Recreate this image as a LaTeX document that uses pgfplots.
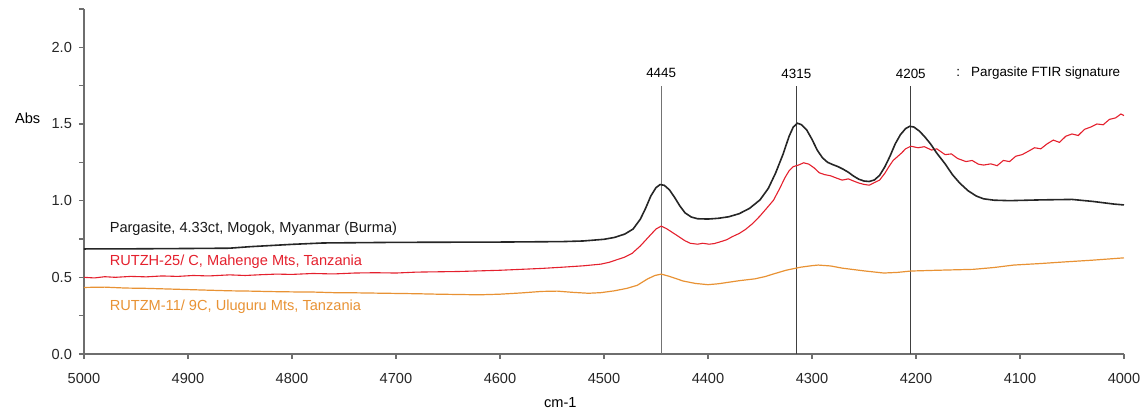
\documentclass[border=0pt]{standalone}
\usepackage{fontspec}
\setmainfont{Liberation Sans}
\usepackage{pgfplots}
\pgfplotsset{compat=1.18}
\definecolor{specred}{RGB}{228,32,45}
\definecolor{specorange}{RGB}{232,146,52}
\definecolor{axisgray}{RGB}{110,110,110}

\begin{document}
\begin{tikzpicture}[font=\fontsize{7.3}{8.5}\selectfont]
\begin{axis}[
  at={(0,0)}, anchor=south west,
  scale only axis, width=520pt, height=172.5pt,
  xmin=4000, xmax=5000, x dir=reverse,
  ymin=0, ymax=2.25,
  axis x line=bottom, axis y line=left,
  axis line style={-, axisgray, line width=0.8pt},
  xtick={4000,4100,...,5000},
  ytick={0,0.5,1.0,1.5,2.0},
  minor ytick={0.25,0.75,1.25,1.75,2.25},
  tick style={axisgray, line width=0.6pt},
  tick align=outside,
  major tick length=2.5pt, minor tick length=2.5pt,
  xticklabel style={/pgf/number format/set thousands separator={}, yshift=-3.5pt},
  yticklabel style={/pgf/number format/.cd, fixed, fixed zerofill, precision=1},
  /pgf/number format/assume math mode=true,
  ticklabel style={font=\fontsize{7.3}{8.5}\selectfont, text=black!85},
  clip=false,
]
% peak markers
\addplot[black!55, line width=0.55pt] coordinates {(4445,0) (4445,1.75)};
\addplot[black!75, line width=0.5pt] coordinates {(4315,0) (4315,1.75)};
\addplot[black!75, line width=0.5pt] coordinates {(4205,0) (4205,1.75)};

% orange: RUTZM-11/9C
\addplot[specorange, line width=0.6pt] coordinates {
  (5000,0.434) (4980,0.436) (4960,0.430) (4940,0.428) (4920,0.424) (4900,0.420)
  (4880,0.416) (4860,0.412) (4840,0.410) (4820,0.407) (4800,0.405) (4780,0.404)
  (4760,0.400) (4740,0.399) (4720,0.397) (4700,0.395) (4680,0.393) (4660,0.390)
  (4640,0.388) (4620,0.386) (4600,0.390) (4580,0.398) (4560,0.408) (4545,0.410)
  (4530,0.402) (4515,0.396) (4503,0.400) (4490,0.412) (4478,0.428) (4468,0.448)
  (4458,0.490) (4451,0.512) (4445,0.521) (4438,0.508) (4430,0.490) (4424,0.476)
  (4412,0.460) (4400,0.452) (4390,0.458) (4380,0.468) (4370,0.478) (4355,0.490)
  (4345,0.505) (4337,0.522) (4325,0.546) (4311,0.566) (4300,0.576) (4294,0.580)
  (4282,0.574) (4271,0.560) (4250,0.542) (4231,0.528) (4218,0.532) (4205,0.541)
  (4180,0.546) (4145,0.552) (4125,0.564) (4106,0.580) (4080,0.590) (4056,0.601)
  (4030,0.612) (4000,0.627)
};

% red: RUTZH-25/C
\addplot[specred, line width=0.55pt] coordinates {
  (5000,0.500) (4990,0.496) (4980,0.504) (4970,0.500) (4955,0.506) (4940,0.503)
  (4925,0.509) (4910,0.506) (4895,0.512) (4880,0.509) (4860,0.516) (4845,0.512)
  (4830,0.517) (4815,0.521) (4800,0.519) (4780,0.525) (4760,0.522) (4740,0.528)
  (4720,0.530) (4700,0.528) (4680,0.534) (4660,0.536) (4640,0.538) (4620,0.542)
  (4600,0.546) (4580,0.552) (4560,0.558) (4540,0.566) (4520,0.575) (4503,0.586)
  (4495,0.598) (4488,0.614) (4480,0.632) (4473,0.656) (4465,0.705) (4457,0.764)
  (4450,0.815) (4445,0.834) (4440,0.818) (4435,0.796) (4428,0.765) (4422,0.738)
  (4417,0.722) (4410,0.716) (4405,0.722) (4399,0.716) (4394,0.720) (4388,0.732)
  (4382,0.745) (4377,0.764) (4370,0.786) (4364,0.812) (4357,0.851) (4350,0.900)
  (4343,0.955) (4337,1.003) (4331,1.080) (4326,1.150) (4322,1.195) (4318,1.222)
  (4313,1.232) (4308,1.247) (4303,1.238) (4298,1.214) (4293,1.182) (4288,1.170)
  (4282,1.162) (4276,1.146) (4271,1.134) (4265,1.142) (4260,1.128) (4255,1.115)
  (4250,1.106) (4245,1.101) (4240,1.118) (4235,1.134) (4230,1.178) (4226,1.222)
  (4222,1.262) (4218,1.286) (4214,1.310) (4210,1.338) (4205,1.355) (4198,1.345)
  (4192,1.352) (4185,1.330) (4180,1.338) (4172,1.300) (4166,1.305) (4160,1.275)
  (4152,1.255) (4146,1.262) (4140,1.238) (4135,1.232) (4128,1.240) (4122,1.228)
  (4116,1.262) (4110,1.255) (4104,1.290) (4098,1.300) (4092,1.322) (4086,1.345)
  (4080,1.338) (4074,1.370) (4068,1.395) (4062,1.380) (4056,1.420) (4050,1.435)
  (4044,1.425) (4038,1.465) (4032,1.480) (4026,1.500) (4020,1.495) (4014,1.530)
  (4008,1.540) (4003,1.565) (4000,1.555)
};

% black: Pargasite, Mogok
\addplot[black!85, line width=0.8pt] coordinates {
  (5000,0.685) (4950,0.686) (4900,0.688) (4860,0.690) (4840,0.700) (4800,0.715)
  (4770,0.724) (4700,0.728) (4600,0.730) (4540,0.733) (4520,0.737) (4500,0.748)
  (4490,0.760) (4480,0.782) (4472,0.815) (4465,0.880) (4460,0.950) (4455,1.030)
  (4450,1.085) (4446,1.105) (4442,1.100) (4437,1.070) (4432,1.020) (4427,0.965)
  (4422,0.920) (4416,0.893) (4410,0.882) (4400,0.880) (4390,0.885) (4380,0.895)
  (4370,0.915) (4360,0.950) (4350,1.005) (4342,1.080) (4335,1.180) (4328,1.300)
  (4322,1.420) (4318,1.480) (4314,1.505) (4310,1.495) (4305,1.460) (4300,1.400)
  (4295,1.330) (4290,1.280) (4285,1.250) (4280,1.235) (4275,1.222) (4270,1.205)
  (4265,1.185) (4260,1.160) (4255,1.140) (4250,1.128) (4245,1.125) (4240,1.135)
  (4235,1.165) (4230,1.220) (4225,1.290) (4220,1.370) (4215,1.430) (4210,1.470)
  (4206,1.485) (4202,1.480) (4197,1.455) (4192,1.420) (4186,1.370) (4180,1.310)
  (4172,1.240) (4165,1.170) (4158,1.115) (4150,1.065) (4142,1.030) (4135,1.012)
  (4125,1.003) (4110,1.000) (4080,1.005) (4050,1.008) (4030,0.995) (4010,0.978)
  (4000,0.972)
};

\node[font=\fontsize{6.7}{8}\selectfont] at (axis cs:4445,1.83) {4445};
\node[font=\fontsize{6.7}{8}\selectfont] at (axis cs:4315,1.83) {4315};
\node[font=\fontsize{6.7}{8}\selectfont] at (axis cs:4205,1.83) {4205};
\node[anchor=west, font=\fontsize{6.7}{8}\selectfont] at (axis cs:4168,1.83) {:\ \ \ Pargasite FTIR signature};

\node[anchor=west, text=black!90] at (axis cs:4982,0.82) {Pargasite, 4.33ct, Mogok, Myanmar (Burma)};
\node[anchor=west, text=specred] at (axis cs:4982,0.60) {RUTZH-25/ C, Mahenge Mts, Tanzania};
\node[anchor=west, text=specorange] at (axis cs:4982,0.306) {RUTZM-11/ 9C, Uluguru Mts, Tanzania};

\node[anchor=west] at ([xshift=-38pt]axis cs:5000,1.537) {Abs};
\node at ([yshift=-24.5pt]axis cs:4542,0) {cm-1};
\end{axis}
\pgfresetboundingbox
\path[use as bounding box] (-42pt,-30.5pt) rectangle (528.5pt,177pt);
\end{tikzpicture}
\end{document}
